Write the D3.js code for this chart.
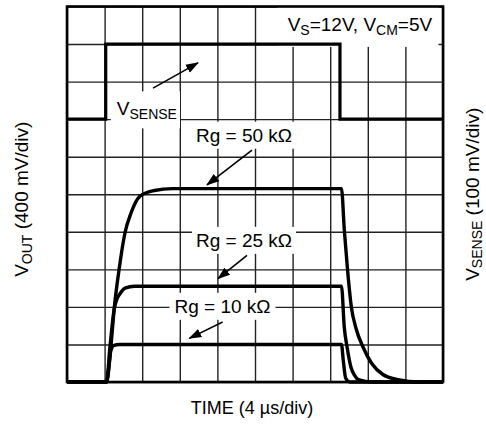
<!DOCTYPE html>
<html>
<head>
<meta charset="utf-8">
<script src="https://cdn.jsdelivr.net/npm/d3@7"></script>
<style>
  html, body { margin: 0; padding: 0; background: #fff; }
  svg { display: block; font-family: "Liberation Sans", Arial, Helvetica, sans-serif; }
</style>
</head>
<body>
<svg id="chart" width="486" height="427"></svg>
<script>
// Graticule: 10 divisions each way, 4 µs/div and 400 mV/div
const timeTicks = [0, 4, 8, 12, 16, 20, 24, 28, 32, 36, 40];          // µs
const voutTicks = [0, 0.4, 0.8, 1.2, 1.6, 2.0, 2.4, 2.8, 3.2, 3.6, 4.0]; // V

// Sense voltage step (µs, mV), 100 mV/div on its own offset
const vsense = [[0, 0], [4.12, 0], [4.12, 200], [29.04, 200], [29.04, 0], [40, 0]];

// Output responses (µs, V) for each gain resistor
const vout50k = [[0, 0], [4.2, 0], [4.68, 0.39], [5.03, 0.79], [5.53, 1.19], [6.17, 1.59],
  [6.81, 1.80], [7.77, 1.98], [9.3, 2.04], [11.2, 2.06], [29.2, 2.06], [29.5, 1.62],
  [29.85, 1.19], [30.25, 0.80], [30.75, 0.57], [31.5, 0.37], [32.4, 0.2], [33.6, 0.08],
  [35.2, 0.025], [37.5, 0], [40, 0]];
const vout25k = [[0, 0], [4.2, 0], [4.57, 0.375], [5.03, 0.78], [5.3, 0.88], [5.64, 0.94],
  [6.17, 1.0], [7.2, 1.02], [29.2, 1.02], [29.5, 0.58], [29.8, 0.37], [30.2, 0.16],
  [30.6, 0.07], [31.0, 0.025], [32.5, 0], [40, 0]];
const vout10k = [[0, 0], [4.22, 0], [4.47, 0.18], [4.65, 0.33], [4.8, 0.37], [5.0, 0.39],
  [5.6, 0.40], [29.2, 0.40], [29.39, 0.23], [29.65, 0.04], [30.1, 0], [40, 0]];

const svg = d3.select("#chart");
const plotL = 67, plotR = 443, plotT = 6.5, plotB = 382;

const x = d3.scaleLinear().domain([0, 40]).range([plotL, plotR]);
const y = d3.scaleLinear().domain([0, 4]).range([plotB, plotT]);
const ySense = d3.scaleLinear().domain([-700, 300]).range([plotB, plotT]);

// grid lines from axes with full-length ticks
const gridX = svg.append("g")
  .attr("transform", `translate(0,${plotB})`)
  .call(d3.axisBottom(x).tickValues(timeTicks).tickSize(-(plotB - plotT)).tickFormat(""));
const gridY = svg.append("g")
  .attr("transform", `translate(${plotL},0)`)
  .call(d3.axisLeft(y).tickValues(voutTicks).tickSize(-(plotR - plotL)).tickFormat(""));
[gridX, gridY].forEach(g => {
  g.select(".domain").remove();
  g.selectAll(".tick line").attr("stroke", "#222").attr("stroke-width", 1.4);
});

// annotation labels, placed in signal coordinates
const labels = [
  { t: 38.85, v: 3.74, anchor: "end", parts: [["V"], ["S", 1], ["=12V, V"], ["CM", 1], ["=5V"]], pad: [10, 11, 6, 12] },
  { t: 5.3, v: 2.84, anchor: "start", parts: [["V"], ["SENSE", 1]], pad: [6, 10, 3, 9] },
  { t: 18.83, v: 2.56, anchor: "middle", parts: [["Rg = 50 kΩ"]], pad: [4, 6, 4, 6] },
  { t: 18.83, v: 1.44, anchor: "middle", parts: [["Rg = 25 kΩ"]], pad: [4, 6, 4, 6] },
  { t: 16.54, v: 0.737, anchor: "middle", parts: [["Rg = 10 kΩ"]], pad: [5, 6, 5, 6] }
];

const bgLayer = svg.append("g");
const traceLayer = svg.append("g");
const textLayer = svg.append("g");

labels.forEach(L => {
  const txt = textLayer.append("text")
    .attr("x", x(L.t)).attr("y", y(L.v))
    .attr("text-anchor", L.anchor)
    .attr("font-size", 19).attr("fill", "#000");
  let shifted = false;
  L.parts.forEach(([s, sub]) => {
    const ts = txt.append("tspan").text(s);
    if (sub && !shifted) { ts.attr("font-size", 14).attr("dy", 4); shifted = true; }
    else if (!sub && shifted) { ts.attr("dy", -4); shifted = false; }
    else if (sub) ts.attr("font-size", 14);
  });
  const b = txt.node().getBBox();
  // pad: [left, top, right, bottom]
  bgLayer.append("rect")
    .attr("x", b.x - L.pad[0]).attr("y", b.y - L.pad[1] + 3)
    .attr("width", b.width + L.pad[0] + L.pad[2])
    .attr("height", b.height + L.pad[1] + L.pad[3] - 6)
    .attr("fill", "#fff");
});

// traces
const lineOut = d3.line().x(d => x(d[0])).y(d => y(d[1])).curve(d3.curveMonotoneX);
const lineSense = d3.line().x(d => x(d[0])).y(d => ySense(d[1]));

traceLayer.append("path").datum(vsense).attr("d", lineSense)
  .attr("fill", "none").attr("stroke", "#000").attr("stroke-width", 3.2)
  .attr("stroke-linejoin", "miter");
[vout10k, vout25k, vout50k].forEach(s => {
  traceLayer.append("path").datum(s).attr("d", lineOut)
    .attr("fill", "none").attr("stroke", "#000").attr("stroke-width", 3.4)
    .attr("stroke-linejoin", "round");
});

// frame
svg.append("rect")
  .attr("x", plotL).attr("y", plotT).attr("width", plotR - plotL).attr("height", plotB - plotT)
  .attr("fill", "none").attr("stroke", "#000").attr("stroke-width", 2.6);

// arrows from labels to traces
svg.append("defs").append("marker")
  .attr("id", "head").attr("viewBox", "0 -5 13 10")
  .attr("refX", 12).attr("refY", 0)
  .attr("markerUnits", "userSpaceOnUse")
  .attr("markerWidth", 13).attr("markerHeight", 10)
  .attr("orient", "auto")
  .append("path").attr("d", "M0,-4.5L13,0L0,4.5Z").attr("fill", "#000");

const arrows = [
  [[9.15, 3.13], [13.94, 3.40]],
  [[19.68, 2.47], [14.89, 2.10]],
  [[19.15, 1.35], [16.06, 1.10]],
  [[16.56, 0.64], [13.01, 0.465]]
];
arrows.forEach(([a, b]) => {
  svg.append("line")
    .attr("x1", x(a[0])).attr("y1", y(a[1]))
    .attr("x2", x(b[0])).attr("y2", y(b[1]))
    .attr("stroke", "#000").attr("stroke-width", 1.6)
    .attr("marker-end", "url(#head)");
});

// axis titles
svg.append("text")
  .attr("x", 252).attr("y", 414)
  .attr("text-anchor", "middle").attr("font-size", 18)
  .text("TIME (4 µs/div)");

const yTitle = svg.append("text")
  .attr("transform", `translate(28,${(plotT + plotB) / 2 + 5}) rotate(-90)`)
  .attr("text-anchor", "middle").attr("font-size", 19);
yTitle.append("tspan").text("V");
yTitle.append("tspan").attr("font-size", 14).attr("dy", 4).text("OUT");
yTitle.append("tspan").attr("dy", -4).text(" (400 mV/div)");

const y2Title = svg.append("text")
  .attr("transform", `translate(479,${(plotT + plotB) / 2}) rotate(-90)`)
  .attr("text-anchor", "middle").attr("font-size", 19);
y2Title.append("tspan").text("V");
y2Title.append("tspan").attr("font-size", 14).attr("dy", 3).text("SENSE");
y2Title.append("tspan").attr("dy", -3).text(" (100 mV/div)");
</script>
</body>
</html>
